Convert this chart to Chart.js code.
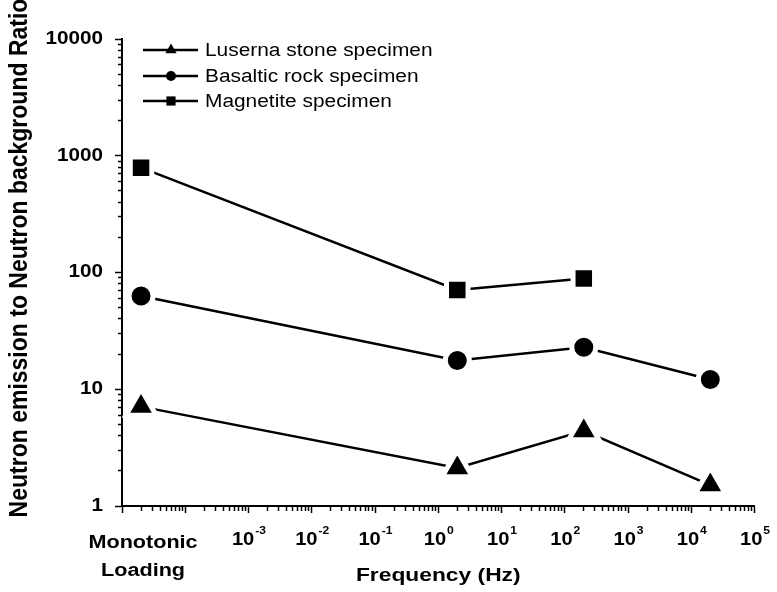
<!DOCTYPE html>
<html>
<head>
<meta charset="utf-8">
<script src="https://cdn.jsdelivr.net/npm/chart.js@4.4.1/dist/chart.umd.min.js"></script>
<style>
  html, body { margin: 0; padding: 0; background: #fff; }
  canvas { display: block; }
</style>
</head>
<body>
<canvas id="grafico" width="777" height="592"></canvas>
<script>
// "Monotonic Loading" has no frequency, it sits in the first decade of the axis
const monotonicX = 2e-5;
const frequencies = [monotonicX, 2, 200, 2e4];
const frequenciesMagnetite = [monotonicX, 2, 200];
const luserna = [7.1, 2.12, 4.4, 1.51];
const basaltic = [63, 17.6, 22.9, 12.1];
const magnetite = [790, 70.8, 88.8];
const seriesNames = ["Luserna stone specimen", "Basaltic rock specimen", "Magnetite specimen"];
const xLabelExponents = [-3, -2, -1, 0, 1, 2, 3, 4, 5];
const yTickLabels = [1, 10, 100, 1000, 10000];
const monotonicLabel = ["Monotonic", "Loading"];
const xTitle = "Frequency (Hz)";
const yTitle = "Neutron emission to Neutron background Ratio";

const FONT = '"Liberation Sans", Arial, sans-serif';

function logTicks(fromExp, toExp) {
  const ticks = [];
  for (let e = fromExp; e < toExp; e++) {
    for (let m = 1; m < 10; m++) {
      ticks.push({ value: m * Math.pow(10, e), major: m === 1 });
    }
  }
  ticks.push({ value: Math.pow(10, toExp), major: true });
  return ticks;
}

function points(xs, ys) {
  return ys.map((y, i) => ({ x: xs[i], y: y }));
}

// Origin style: black marker, white halo so the line stops short of it
function serie(label, data, style, radius) {
  return {
    label: label,
    data: data,
    borderColor: "#000",
    borderWidth: 2.5,
    backgroundColor: "#000",
    pointStyle: style,
    pointRadius: radius,
    pointBackgroundColor: "#000",
    pointBorderColor: "#fff",
    pointBorderWidth: 5,
    tension: 0,
  };
}

// the figure text is a bit wider than plain Arial, sx stretches it
function drawText(ctx, text, x, y, font, align, sx) {
  ctx.save();
  ctx.translate(x, y);
  ctx.scale(sx, 1);
  ctx.font = font;
  ctx.textAlign = align;
  ctx.fillText(text, 0, 0);
  ctx.restore();
}

const texts = {
  id: "texts",
  afterDraw(chart) {
    const ctx = chart.ctx;
    const x = chart.scales.x;
    const y = chart.scales.y;
    ctx.save();
    ctx.fillStyle = "#000";
    ctx.strokeStyle = "#000";

    // y tick labels
    ctx.textBaseline = "middle";
    yTickLabels.forEach((v) => {
      drawText(ctx, String(v), 103, y.getPixelForValue(v), "bold 18px " + FONT, "right", 1.15);
    });

    // x tick labels 10^n
    ctx.textBaseline = "alphabetic";
    xLabelExponents.forEach((e) => {
      const px = x.getPixelForValue(Math.pow(10, e));
      const sup = String(e);
      ctx.font = "bold 18px " + FONT;
      const wBase = ctx.measureText("10").width * 1.12;
      ctx.font = "bold 11px " + FONT;
      const wSup = ctx.measureText(sup).width * 1.1;
      const start = px - (wBase + wSup) / 2;
      drawText(ctx, "10", start, 545, "bold 18px " + FONT, "left", 1.12);
      drawText(ctx, sup, start + wBase + 1, 534, "bold 11px " + FONT, "left", 1.1);
    });

    // monotonic loading label
    ctx.textBaseline = "middle";
    const mx = x.getPixelForValue(monotonicX) + 2;
    drawText(ctx, monotonicLabel[0], mx, 543, "bold 18px " + FONT, "center", 1.2);
    drawText(ctx, monotonicLabel[1], mx, 571, "bold 18px " + FONT, "center", 1.2);

    // x title
    drawText(ctx, xTitle, (chart.chartArea.left + chart.chartArea.right) / 2, 576, "bold 19px " + FONT, "center", 1.2);

    // y title, rotated
    ctx.save();
    ctx.translate(27, 258);
    ctx.rotate(-Math.PI / 2);
    ctx.scale(1, 1.12);
    ctx.font = "bold 23px " + FONT;
    ctx.textAlign = "center";
    ctx.textBaseline = "alphabetic";
    ctx.fillText(yTitle, 0, 0);
    ctx.restore();

    // legend: line with marker in the middle
    const rows = [50, 76, 101];
    const sizes = [6.5, 5, 6.5];
    ctx.textBaseline = "middle";
    chart.data.datasets.forEach((ds, i) => {
      const ly = rows[i];
      ctx.lineWidth = 2.5;
      ctx.beginPath();
      ctx.moveTo(143, ly);
      ctx.lineTo(198, ly);
      ctx.stroke();
      Chart.helpers.drawPoint(ctx, { pointStyle: ds.pointStyle, rotation: 0, radius: sizes[i], borderWidth: 0 }, 171, ly);
      drawText(ctx, ds.label, 205, ly + 1, "18px " + FONT, "left", 1.16);
    });
    ctx.restore();
  },
};

const tickDash = (ctx) => (ctx.tick && ctx.tick.major ? [] : [4, 3]);

new Chart(document.getElementById("grafico"), {
  type: "line",
  data: {
    datasets: [
      serie(seriesNames[0], points(frequencies, luserna), "triangle", 17.5),
      serie(seriesNames[1], points(frequencies, basaltic), "circle", 12),
      serie(seriesNames[2], points(frequenciesMagnetite, magnetite), "rect", 15.2),
    ],
  },
  options: {
    responsive: false,
    animation: false,
    events: [],
    layout: { padding: { top: 39, right: 15, bottom: 0, left: 0 } },
    plugins: {
      legend: { display: false },
      tooltip: { enabled: false },
    },
    scales: {
      x: {
        type: "logarithmic",
        min: 1e-5,
        max: 1e5,
        afterBuildTicks: (scale) => { scale.ticks = logTicks(-5, 5); },
        afterFit: (scale) => { scale.height = 86; },
        ticks: { autoSkip: false, maxRotation: 0, callback: () => "" },
        grid: {
          drawOnChartArea: false,
          tickLength: 7,
          tickWidth: 1.5,
          tickColor: "#000",
          tickBorderDash: tickDash,
        },
        border: { display: true, color: "#000", width: 2 },
      },
      y: {
        type: "logarithmic",
        min: 1,
        max: 10000,
        afterBuildTicks: (scale) => { scale.ticks = logTicks(0, 4); },
        afterFit: (scale) => { scale.width = 122; },
        ticks: { autoSkip: false, callback: () => "" },
        grid: {
          drawOnChartArea: false,
          tickLength: 7,
          tickWidth: 1.5,
          tickColor: "#000",
          tickBorderDash: tickDash,
          tickBorderDashOffset: (ctx) => (ctx.tick && ctx.tick.major ? 0 : 4),
        },
        border: { display: true, color: "#000", width: 2 },
      },
    },
  },
  plugins: [texts],
});
</script>
</body>
</html>
